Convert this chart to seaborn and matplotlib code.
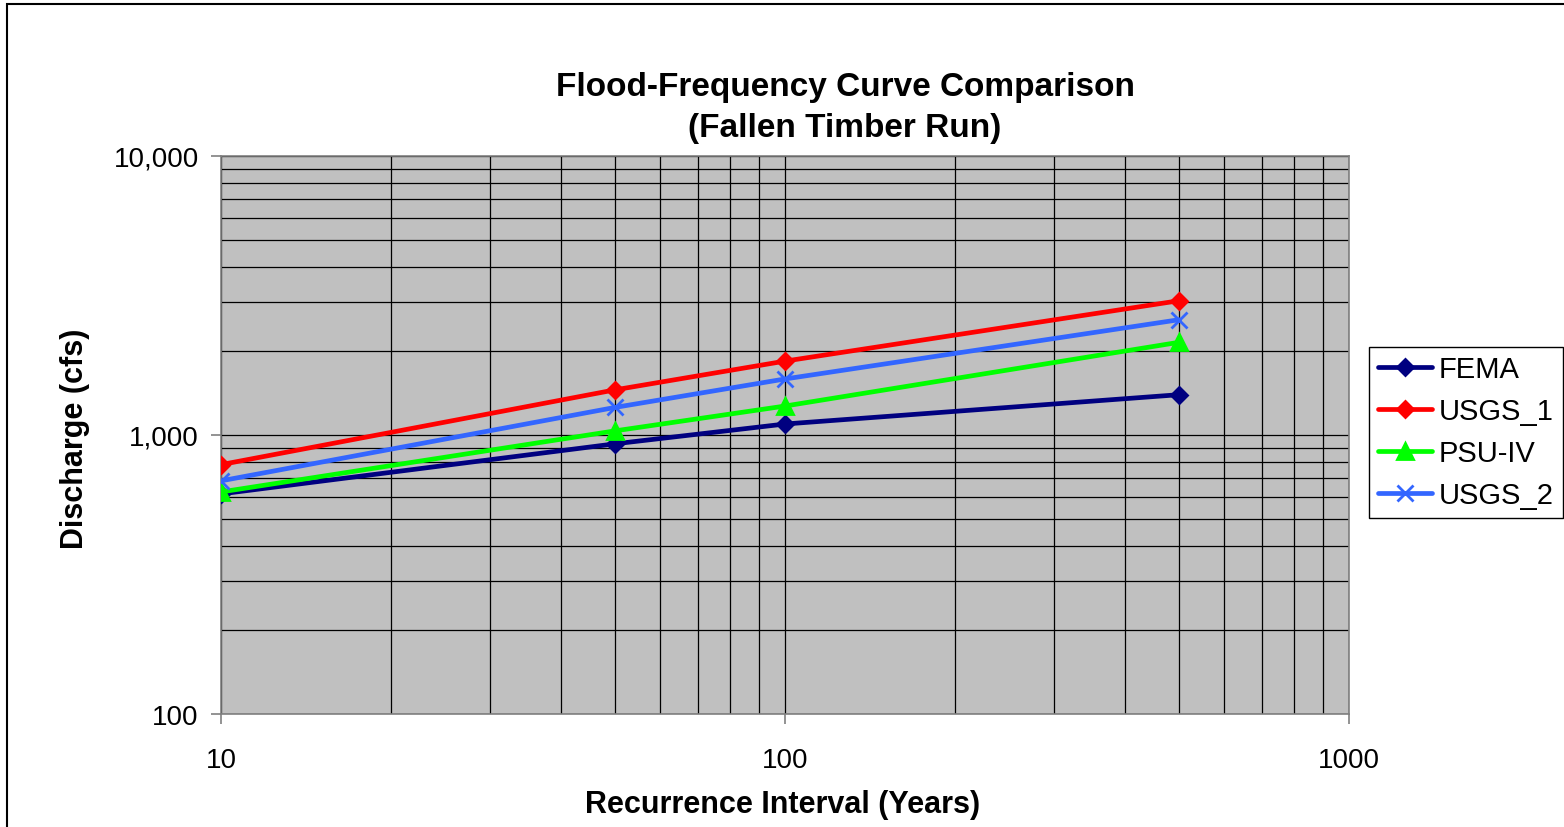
import numpy as np
import pandas as pd
import matplotlib
matplotlib.use("Agg")
import matplotlib.pyplot as plt
import seaborn as sns
from matplotlib.ticker import FuncFormatter, LogLocator, NullFormatter
from matplotlib.patches import Rectangle

# ---- data ----
years = [10, 50, 100, 500]
fema = [615, 930, 1095, 1395]
usgs_1 = [783, 1452, 1840, 3030]
psu_iv = [625, 1035, 1270, 2150]
usgs_2 = [685, 1256, 1588, 2590]
series_names = ["FEMA", "USGS_1", "PSU-IV", "USGS_2"]
colors = ["#000080", "#FF0000", "#00FF00", "#3366FF"]
markers = ["D", "D", "^", "x"]
msizes = [8.5, 8.5, 11, 12]

sns.set_theme(style="white")
plt.rcParams["font.family"] = ["Liberation Sans", "DejaVu Sans"]
plt.rcParams["text.color"] = "black"
plt.rcParams["axes.labelcolor"] = "black"
plt.rcParams["xtick.color"] = "black"
plt.rcParams["ytick.color"] = "black"

fig = plt.figure(figsize=(15.64, 8.28), dpi=100)
ax = fig.add_axes([221/1564, 1-715/828, (1349-221)/1564, (715-157)/828])
ax.set_facecolor("#C0C0C0")

for name, vals, c, m, ms in zip(series_names, [fema, usgs_1, psu_iv, usgs_2], colors, markers, msizes):
    d = pd.DataFrame({"Years": years, "Discharge": vals})
    sns.lineplot(data=d, x="Years", y="Discharge", color=c, marker=m, markersize=ms,
                 markeredgecolor=c, markerfacecolor=c, markeredgewidth=2.0,
                 linewidth=3.4, label=name, ax=ax, zorder=3)

ax.set_xscale("log")
ax.set_yscale("log")
ax.set_xlim(10, 1000)
ax.set_ylim(100, 10000)

ax.xaxis.set_major_locator(LogLocator(base=10, numticks=10))
ax.xaxis.set_minor_locator(LogLocator(base=10, subs=np.arange(2, 10), numticks=10))
ax.yaxis.set_major_locator(LogLocator(base=10, numticks=10))
ax.yaxis.set_minor_locator(LogLocator(base=10, subs=np.arange(2, 10), numticks=10))
ax.xaxis.set_major_formatter(FuncFormatter(lambda v, p: f"{int(round(v))}"))
ax.yaxis.set_major_formatter(FuncFormatter(lambda v, p: f"{int(round(v)):,}"))
ax.xaxis.set_minor_formatter(NullFormatter())
ax.yaxis.set_minor_formatter(NullFormatter())

ax.grid(True, which="both", color="black", linewidth=0.9, zorder=0)
ax.set_axisbelow(True)
for s in ax.spines.values():
    s.set_color("#808080")
    s.set_linewidth(1.2)

ax.tick_params(axis="both", which="major", direction="out", length=7, width=1.2,
               color="#808080", labelsize=20, bottom=True, left=True)
ax.tick_params(axis="x", which="major", pad=17)
ax.tick_params(axis="y", which="major", pad=9)
ax.tick_params(axis="both", which="minor", length=0)

ax.set_xlabel("")
ax.set_ylabel("")
fig.text(783/1564, 1-805/828, "Recurrence Interval (Years)", fontsize=22, fontweight="bold",
         ha="center", va="center")
fig.text(75/1564, 1-439/828, "Discharge (cfs)", fontsize=22, fontweight="bold",
         ha="center", va="center", rotation=90)
fig.text(845/1564, 1-108/828, "Flood-Frequency Curve Comparison\n(Fallen Timber Run)",
         fontsize=24, fontweight="bold", ha="center", va="center", linespacing=1.42)

handles, labels = ax.get_legend_handles_labels()
leg = ax.legend(handles, labels, loc="center left",
                bbox_to_anchor=(1369/1564, 1-433.5/828), bbox_transform=fig.transFigure,
                frameon=True, fancybox=False, framealpha=1, edgecolor="black",
                fontsize=21, handlelength=1.85, handletextpad=0.25, labelspacing=0.48,
                borderpad=0.3, borderaxespad=0)
leg.get_frame().set_linewidth(1.0)

fig.patches.append(Rectangle((7/1564, -0.1), 1.2, 1-5/828 + 0.1, transform=fig.transFigure,
                             fill=False, edgecolor="black", linewidth=1.5))

fig.savefig("out.png", dpi=100, facecolor="white")
